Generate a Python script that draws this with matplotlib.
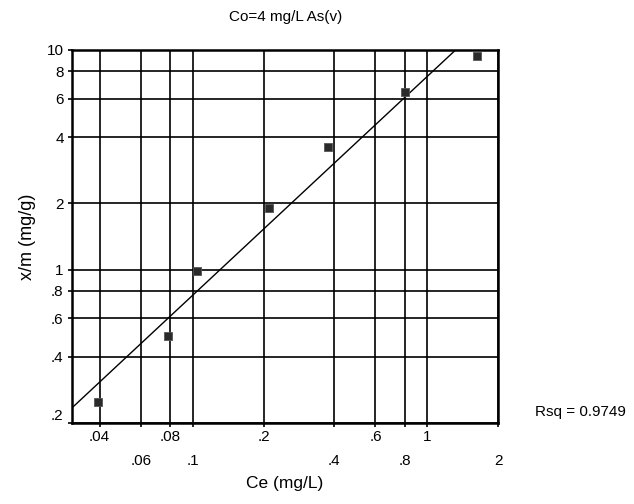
import numpy as np
import matplotlib
matplotlib.use('Agg')
from matplotlib import pyplot as plt
from matplotlib import ticker

plt.rcParams['font.family'] = ['Liberation Sans', 'DejaVu Sans']

# Equilibrium concentration vs. uptake
ce = [0.0395, 0.0785, 0.104, 0.211, 0.376, 0.805, 1.63]
xm = [0.25, 0.496, 0.987, 1.90, 3.63, 6.41, 9.39]
rsq = 0.9749

# Axis ticks (x labels staggered on two rows)
x_ticks_row1 = [0.04, 0.08, 0.2, 0.6, 1]
x_labels_row1 = ['.04', '.08', '.2', '.6', '1']
x_ticks_row2 = [0.06, 0.1, 0.4, 0.8, 2]
x_labels_row2 = ['.06', '.1', '.4', '.8', '2']
y_ticks = [0.2, 0.4, 0.6, 0.8, 1, 2, 4, 6, 8, 10]
y_labels = ['.2', '.4', '.6', '.8', '1', '2', '4', '6', '8', '10']

fig = plt.figure(figsize=(6.34, 5.04), dpi=100)
ax = fig.add_axes([0.1136, 0.1607, 0.672, 0.7401])

ax.set_xscale('log')
ax.set_yscale('log')
xlo, xhi = 0.0305, 2.0
ax.set_xlim(xlo, xhi)
ax.set_ylim(0.2, 10)

# Least-squares fit in log-log space
slope, icpt = np.polyfit(np.log10(ce), np.log10(xm), 1)
xf = np.array([xlo, xhi])
ax.plot(xf, 10 ** (icpt + slope * np.log10(xf)), color='black', lw=1.0, zorder=3)

ax.scatter(ce, xm, marker='s', s=28, color='#2a2a2a', edgecolor='#555555',
           linewidth=0.6, zorder=4)

ax.xaxis.set_major_locator(ticker.FixedLocator(x_ticks_row1))
ax.xaxis.set_major_formatter(ticker.FixedFormatter(x_labels_row1))
ax.xaxis.set_minor_locator(ticker.FixedLocator(x_ticks_row2))
ax.xaxis.set_minor_formatter(ticker.FixedFormatter(x_labels_row2))
ax.yaxis.set_major_locator(ticker.FixedLocator(y_ticks))
ax.yaxis.set_major_formatter(ticker.FixedFormatter(y_labels))
ax.yaxis.set_minor_locator(ticker.NullLocator())

ax.tick_params(axis='x', which='major', length=3, width=1.2, pad=2, labelsize=11)
ax.tick_params(axis='x', which='minor', length=3, width=1.2, pad=19, labelsize=11)
ax.tick_params(axis='y', which='major', length=3, width=1.2, pad=3, labelsize=11)

ax.grid(True, which='both', axis='x', color='black', lw=1.2)
ax.grid(True, which='major', axis='y', color='black', lw=1.2)
ax.set_axisbelow(True)
for sp in ax.spines.values():
    sp.set_linewidth(1.8)

# keep the bottom y label clear of the x labels
fig.canvas.draw()
ax.get_yticklabels()[0].set_va('bottom')

fig.text(0.45, 0.966, 'Co=4 mg/L As(v)', fontsize=11, ha='center', va='center')
ax.set_xlabel('Ce (mg/L)', fontsize=12.5, labelpad=6)
ax.set_ylabel('x/m (mg/g)', fontsize=13, labelpad=8)

fig.text(0.844, 0.1825, 'Rsq = %.4f' % rsq, fontsize=11, va='center')

fig.savefig('out.png', dpi=100)
